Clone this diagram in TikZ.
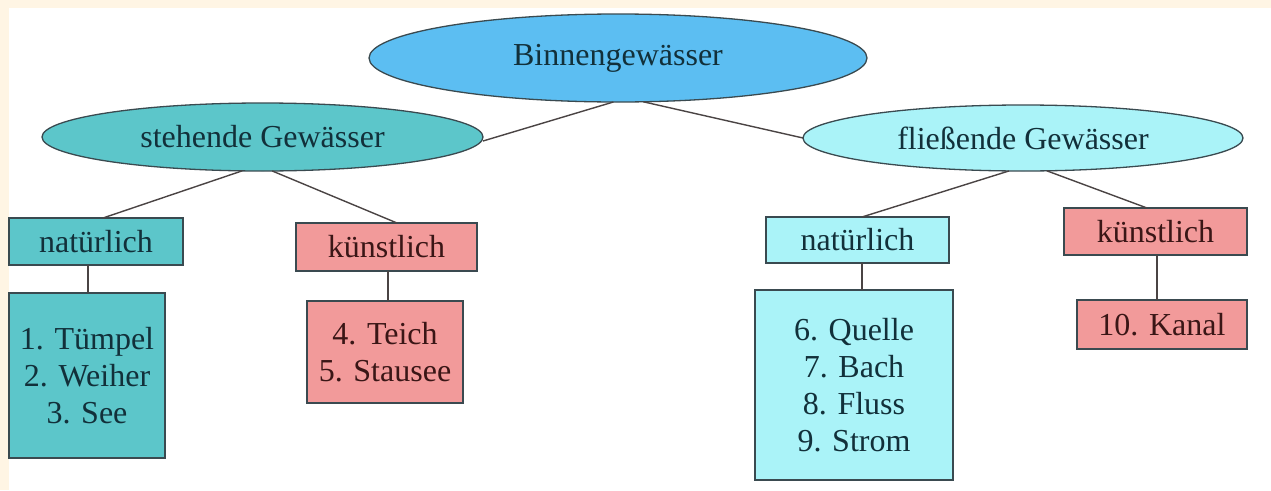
\documentclass[tikz,border=0pt]{standalone}
\usepackage{fontspec}
\setmainfont{Liberation Serif}
\usetikzlibrary{shapes.geometric,calc}
\definecolor{cream}{HTML}{FFF5E4}
\definecolor{binfill}{HTML}{5CBEF2}
\definecolor{tealfill}{HTML}{5CC6CA}
\definecolor{cyanfill}{HTML}{AAF3F8}
\definecolor{pinkfill}{HTML}{F29A9A}
\definecolor{edgecol}{HTML}{3A4A50}
\definecolor{txtblue}{HTML}{12303A}
\definecolor{txtred}{HTML}{3A1616}
\definecolor{linecol}{HTML}{4A4444}
\tikzset{
  base/.style={draw=edgecol, line width=1.3pt, inner sep=0pt, outer sep=0pt,
    font=\fontsize{32}{38}\selectfont, text=txtblue, align=center},
  ell/.style={base, ellipse},
  box/.style={base, rectangle},
  redbox/.style={box, fill=pinkfill, text=txtred},
  conn/.style={draw=linecol, line width=1.4pt}
}
\begin{document}
\begin{tikzpicture}[x=1pt, y=-1pt]
\useasboundingbox (0,0) rectangle (1271,490);
\fill[cream] (0,0) rectangle (1271,490);
\fill[white] (9,8) rectangle (1271,490);

\node[ell, fill=binfill, minimum width=498pt, minimum height=88pt] (binnen) at (618,58) {Binnengewässer};
\node[ell, fill=tealfill, minimum width=441pt, minimum height=68pt] (steh) at (262.5,137) {stehende Gewässer};
\node[ell, fill=cyanfill, minimum width=440pt, minimum height=66pt] (fliess) at (1023,138) {fließende Gewässer};

\node[box, fill=tealfill, minimum width=174pt, minimum height=47pt] (nat1) at (96,241.5) {natürlich};
\node[redbox, minimum width=181pt, minimum height=48pt] (kun1) at (386.5,247) {künstlich};
\node[box, fill=cyanfill, minimum width=183pt, minimum height=46pt] (nat2) at (857.5,240) {natürlich};
\node[redbox, minimum width=183pt, minimum height=47pt] (kun2) at (1155.5,231.5) {künstlich};

\node[box, fill=tealfill, minimum width=156pt, minimum height=165pt] (list1) at (87,375.5)
  {1. Tümpel\\[-1pt]2. Weiher\\[-1pt]3. See};
\node[redbox, minimum width=156pt, minimum height=102pt] (list2) at (385,352)
  {4. Teich\\[-1pt]5. Stausee};
\node[box, fill=cyanfill, minimum width=198pt, minimum height=190pt] (list3) at (854,385)
  {6. Quelle\\[-1pt]7. Bach\\[-1pt]8. Fluss\\[-1pt]9. Strom};
\node[redbox, minimum width=170pt, minimum height=49pt] (list4) at (1162,324.5) {10. Kanal};

\draw[conn] ([yshift=-4pt]steh.east) -- (binnen.-96);
\draw[conn] (binnen.-60) -- (fliess.west);
\draw[conn] (steh.-121) -- ([xshift=7pt]nat1.north);
\draw[conn] (steh.-74) -- ([xshift=10.5pt]kun1.north);
\draw[conn] (fliess.-113) -- ([xshift=4.5pt]nat2.north);
\draw[conn] (fliess.-54) -- ([xshift=-8.5pt]kun2.north);

\draw[conn] ([xshift=-8pt]nat1.south) -- ([xshift=1pt]list1.north);
\draw[conn] ([xshift=1.5pt]kun1.south) -- ([xshift=3pt]list2.north);
\draw[conn] ([xshift=4.5pt]nat2.south) -- ([xshift=8pt]list3.north);
\draw[conn] ([xshift=1.5pt]kun2.south) -- ([xshift=-5pt]list4.north);
\end{tikzpicture}
\end{document}
